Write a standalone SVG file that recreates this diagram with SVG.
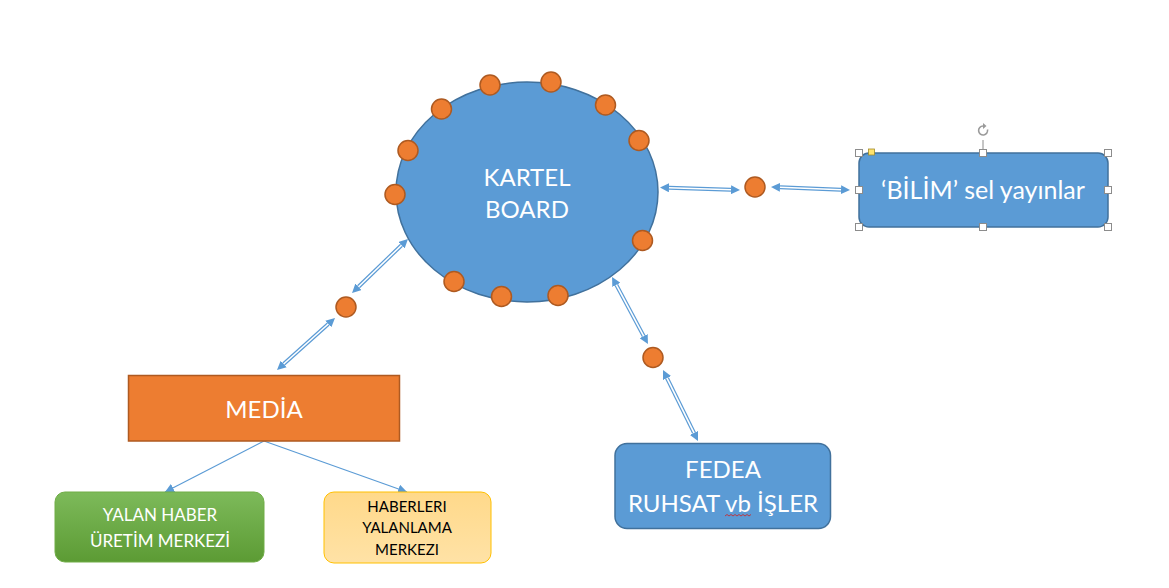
<svg xmlns="http://www.w3.org/2000/svg" width="1169" height="588" viewBox="0 0 1169 588">
<style>
.dot{fill:#ED7D31;stroke:#AE5A21;stroke-width:1.5}
.blue{fill:#5B9BD5;stroke:#41719C;stroke-width:1.5}
.t{font-family:Lato,"Liberation Sans",sans-serif;fill:#fff;text-anchor:middle}
.dbl{stroke:#5B9BD5;stroke-width:4;fill:none;marker-start:url(#head);marker-end:url(#head)}
.inner{stroke:#fff;stroke-width:1.6;fill:none}
.thin{stroke:#5B9BD5;stroke-width:1.2;fill:none;marker-end:url(#tip)}
.h{fill:#fff;stroke:#8c8c8c;stroke-width:1}
</style>
<defs>
<marker id="head" viewBox="0 0 10 10" markerWidth="9" markerHeight="9" markerUnits="userSpaceOnUse" refX="0" refY="5" orient="auto-start-reverse"><path d="M0,0 L10,5 L0,10 z" fill="#5B9BD5"/></marker>
<marker id="tip" viewBox="0 0 10 10" markerWidth="9" markerHeight="9" markerUnits="userSpaceOnUse" refX="10" refY="5" orient="auto"><path d="M0,0 L10,5 L0,10 z" fill="#5B9BD5"/></marker>
<linearGradient id="gGreen" x1="0" y1="0" x2="0" y2="1"><stop offset="0" stop-color="#7DBA5A"/><stop offset="1" stop-color="#5C9B34"/></linearGradient>
<linearGradient id="gYellow" x1="0" y1="0" x2="0" y2="1"><stop offset="0" stop-color="#FFD98A"/><stop offset="1" stop-color="#FFE2A6"/></linearGradient>
</defs>
<rect width="1169" height="588" fill="#fff"/>

<g id="connectors">
<line class="dbl" x1="669" y1="187.8" x2="731" y2="189.7"/><line class="inner" x1="669" y1="187.8" x2="731" y2="189.7"/>
<line class="dbl" x1="780" y1="187.3" x2="841" y2="189.7"/><line class="inner" x1="780" y1="187.3" x2="841" y2="189.7"/>
<line class="dbl" x1="401.5" y1="245.2" x2="358.5" y2="286.8"/><line class="inner" x1="401.5" y1="245.2" x2="358.5" y2="286.8"/>
<line class="dbl" x1="328.3" y1="324" x2="283.7" y2="364"/><line class="inner" x1="328.3" y1="324" x2="283.7" y2="364"/>
<line class="dbl" x1="616.3" y1="284.9" x2="643.7" y2="336.1"/><line class="inner" x1="616.3" y1="284.9" x2="643.7" y2="336.1"/>
<line class="dbl" x1="667" y1="378.1" x2="694" y2="432.9"/><line class="inner" x1="667" y1="378.1" x2="694" y2="432.9"/>
<line class="thin" x1="264" y1="441" x2="165" y2="492"/>
<line class="thin" x1="264" y1="441" x2="407" y2="492"/>
</g>

<g id="kartel">
<ellipse class="blue" cx="527" cy="192" rx="131" ry="110"/>
<text class="t" x="527" y="186" font-size="24">KARTEL</text>
<text class="t" x="527" y="218" font-size="24">BOARD</text>
</g>
<g id="kartel-dots">
<circle class="dot" cx="490" cy="85" r="10"/>
<circle class="dot" cx="551" cy="82" r="10"/>
<circle class="dot" cx="441.5" cy="109" r="10"/>
<circle class="dot" cx="605.5" cy="105" r="10"/>
<circle class="dot" cx="408" cy="150.5" r="10"/>
<circle class="dot" cx="639" cy="140.5" r="10"/>
<circle class="dot" cx="395" cy="194.5" r="10"/>
<circle class="dot" cx="642.5" cy="240.5" r="10"/>
<circle class="dot" cx="454" cy="281.5" r="10"/>
<circle class="dot" cx="501.5" cy="296.5" r="10"/>
<circle class="dot" cx="558" cy="295.5" r="10"/>
</g>

<g id="dot-bilim"><circle class="dot" cx="755" cy="187" r="10"/></g>
<g id="dot-media"><circle class="dot" cx="346" cy="307" r="10"/></g>
<g id="dot-fedea"><circle class="dot" cx="653" cy="357.5" r="10"/></g>

<g id="bilim">
<rect class="blue" x="859" y="153" width="249" height="74" rx="10"/>
<text class="t" x="983" y="199" font-size="25">‘BİLİM’ sel yayınlar</text>
</g>
<g id="selection-handles">
<line x1="983" y1="140" x2="983" y2="153" stroke="#8c8c8c" stroke-width="1"/>
<path d="M987.5,129.5 A4.5,4.5 0 1 1 983,126" fill="none" stroke="#9a9a9a" stroke-width="1.6"/>
<path d="M983,123 L986.5,126 L983,129 z" fill="#9a9a9a"/>
<rect class="h" x="855.5" y="149.5" width="7" height="7"/>
<rect class="h" x="979.5" y="149.5" width="7" height="7"/>
<rect class="h" x="1104.5" y="149.5" width="7" height="7"/>
<rect class="h" x="855.5" y="186.5" width="7" height="7"/>
<rect class="h" x="1104.5" y="186.5" width="7" height="7"/>
<rect class="h" x="855.5" y="223.5" width="7" height="7"/>
<rect class="h" x="979.5" y="223.5" width="7" height="7"/>
<rect class="h" x="1104.5" y="223.5" width="7" height="7"/>
<rect x="868.5" y="149" width="6" height="6" fill="#FFE36E" stroke="#a08a2a" stroke-width="0.8"/>
</g>

<g id="fedea">
<rect class="blue" x="615" y="443.5" width="215.5" height="85" rx="12"/>
<text class="t" x="723" y="478" font-size="24">FEDEA</text>
<text class="t" x="723" y="511.5" font-size="24">RUHSAT vb İŞLER</text>
<path d="M725,516 l2,-1.5 l2,1.5 l2,-1.5 l2,1.5 l2,-1.5 l2,1.5 l2,-1.5 l2,1.5 l2,-1.5 l2,1.5 l2,-1.5 l2,1.5 l2,-1.5" fill="none" stroke="#d02020" stroke-width="0.8"/>
</g>

<g id="media">
<rect x="128.5" y="375.5" width="271" height="65.5" fill="#ED7D31" stroke="#AE5A21" stroke-width="1.5"/>
<text class="t" x="264" y="417.5" font-size="24">MEDİA</text>
</g>

<g id="yalan-haber">
<rect x="55" y="492" width="209" height="70" rx="10" fill="url(#gGreen)" stroke="#70AD47" stroke-width="1"/>
<text class="t" x="160" y="521" font-size="17">YALAN HABER</text>
<text class="t" x="160" y="546.5" font-size="17">ÜRETİM MERKEZİ</text>
</g>

<g id="yalanlama">
<rect x="324" y="492" width="167" height="71" rx="10" fill="url(#gYellow)" stroke="#FFC000" stroke-width="1"/>
<text class="t" x="407" y="511.5" font-size="15" style="fill:#000">HABERLERI</text>
<text class="t" x="407" y="533" font-size="15" style="fill:#000">YALANLAMA</text>
<text class="t" x="407" y="555" font-size="15" style="fill:#000">MERKEZI</text>
</g>
</svg>
